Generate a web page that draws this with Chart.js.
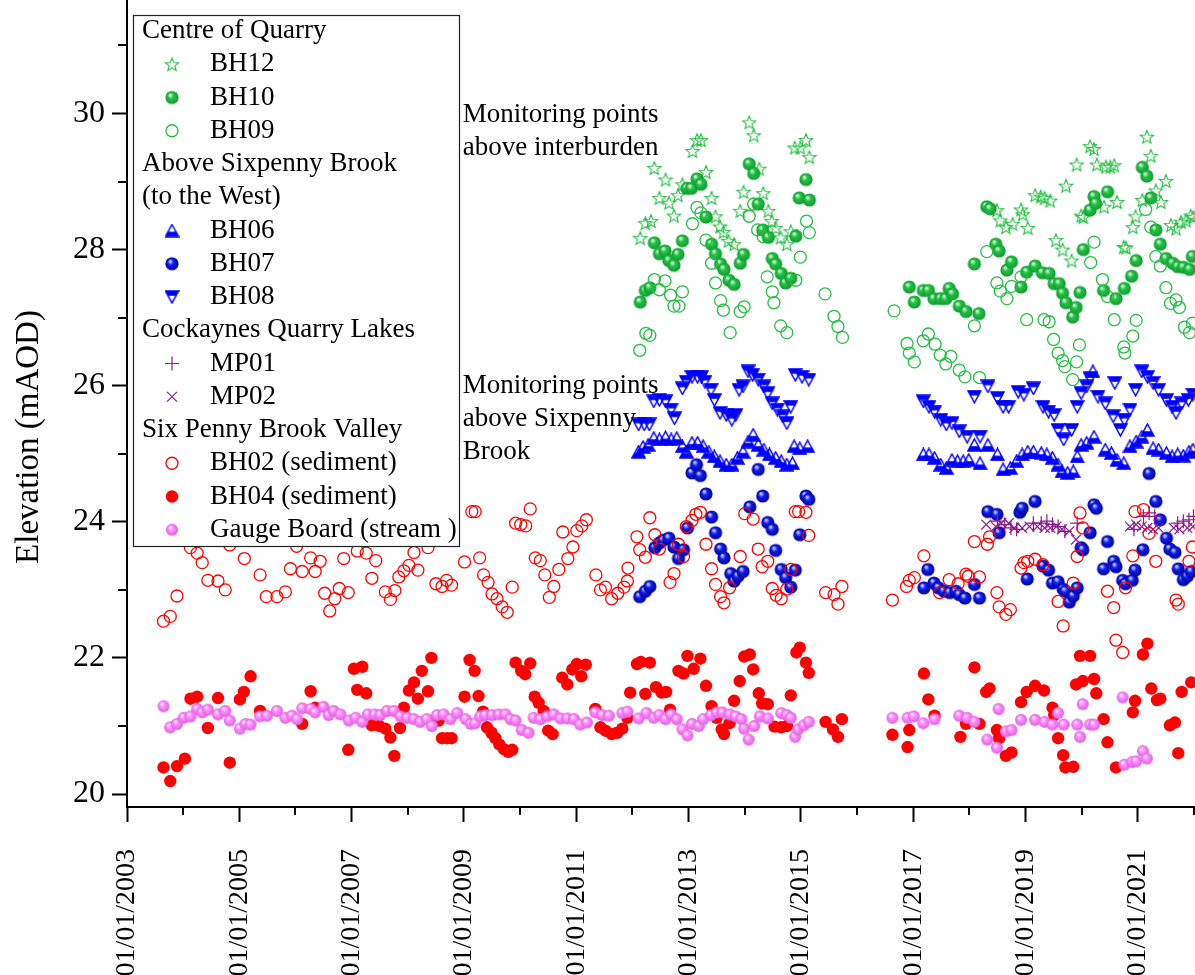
<!DOCTYPE html>
<html>
<head>
<meta charset="utf-8">
<title>Hydrograph of monitoring points</title>
<script src="https://cdn.jsdelivr.net/npm/chart.js@4.4.1/dist/chart.umd.min.js"></script>
<style>
  html, body { margin: 0; padding: 0; background: #fff; overflow: hidden; width: 1195px; height: 975px; }
  #wrap { position: absolute; left: 0; top: -40px; width: 1235px; height: 1015px; }
</style>
</head>
<body>
<div id="wrap"><canvas id="chart" width="1235" height="1015"></canvas></div>
<script>
// Axis ticks (decimal years on x, elevation in mAOD on y)
const yearTicks = [2003, 2005, 2007, 2009, 2011, 2013, 2015, 2017, 2019, 2021];
const yearMinor = [2004, 2006, 2008, 2010, 2012, 2014, 2016, 2018, 2020, 2022];
const levelTicks = [20, 22, 24, 26, 28, 30];
const levelMinor = [21, 23, 25, 27, 29, 31];

// Centre of Quarry
const bh12 = [
  [2012.14,28.17],[2012.23,28.39],[2012.33,28.42],[2012.39,29.20],[2012.48,28.76],[2012.59,29.03],[2012.65,28.69],
  [2012.74,28.50],[2012.81,28.80],[2012.89,28.96],[2013.07,29.45],[2013.15,29.61],[2013.22,29.61],[2013.31,29.14],
  [2013.41,28.76],[2013.48,28.49],[2013.56,28.34],[2013.62,28.26],[2013.71,28.13],[2013.81,28.08],[2013.92,28.57],
  [2013.98,28.85],[2014.08,29.87],[2014.16,29.68],[2014.26,29.19],[2014.33,28.83],[2014.42,28.57],[2014.48,28.42],
  [2014.55,28.32],[2014.64,28.18],[2014.75,28.08],[2014.82,28.27],[2014.89,29.50],[2014.99,29.50],[2015.09,29.61],
  [2015.15,29.36],
  [2018.49,28.58],[2018.55,28.43],[2018.65,28.33],[2018.77,28.38],[2018.92,28.59],[2018.95,28.52],[2019.04,28.32],
  [2019.17,28.80],[2019.27,28.78],[2019.34,28.76],[2019.44,28.72],[2019.54,28.14],[2019.66,28.00],[2019.72,28.94],
  [2019.82,27.84],[2019.91,29.25],[2019.99,28.50],[2020.03,28.48],[2020.15,29.52],[2020.22,29.48],[2020.27,29.25],
  [2020.40,28.63],[2020.43,29.22],[2020.51,29.22],[2020.58,29.24],[2020.63,28.70],[2020.75,28.04],[2020.79,28.03],
  [2020.91,28.33],[2020.96,28.49],[2021.08,28.73],[2021.16,29.66],[2021.23,29.38],[2021.32,28.87],[2021.41,28.70],
  [2021.50,29.01],[2021.59,28.36],[2021.68,28.31],[2021.77,28.41],[2021.86,28.43],[2021.94,28.50],[2021.99,28.48]
];
const bh10 = [
  [2012.14,27.23],[2012.23,27.40],[2012.31,27.44],[2012.39,28.10],[2012.48,27.94],[2012.58,27.98],[2012.65,27.84],
  [2012.74,27.77],[2012.81,27.93],[2012.89,28.13],[2012.97,28.90],[2013.05,28.90],[2013.15,29.04],[2013.22,28.96],
  [2013.31,28.48],[2013.41,28.08],[2013.48,27.94],[2013.57,27.79],[2013.63,27.71],[2013.72,27.55],[2013.81,27.49],
  [2013.92,27.80],[2013.98,27.93],[2014.08,29.26],[2014.16,29.12],[2014.24,28.67],[2014.32,28.29],[2014.42,28.18],
  [2014.49,27.87],[2014.55,27.79],[2014.65,27.65],[2014.73,27.51],[2014.82,27.58],[2014.91,28.20],[2014.97,28.76],
  [2015.09,29.03],[2015.15,28.73],
  [2016.93,27.45],[2017.02,27.23],[2017.18,27.40],[2017.27,27.40],[2017.37,27.28],[2017.49,27.28],[2017.58,27.28],
  [2017.64,27.43],[2017.70,27.35],[2017.82,27.17],[2017.94,27.09],[2018.09,27.79],[2018.17,27.06],[2018.31,28.63],
  [2018.37,28.60],[2018.47,28.08],[2018.53,27.98],[2018.67,27.70],[2018.75,27.82],[2018.92,27.45],[2019.02,27.67],
  [2019.17,27.76],[2019.30,27.66],[2019.42,27.65],[2019.51,27.50],[2019.60,27.50],[2019.66,27.36],[2019.72,27.22],
  [2019.84,27.01],[2019.90,27.15],[2019.97,27.37],[2020.03,28.00],[2020.15,28.58],[2020.22,28.78],[2020.25,28.68],
  [2020.39,27.40],[2020.46,28.85],[2020.61,27.28],[2020.76,27.43],[2020.89,27.61],[2020.97,27.84],[2021.08,29.21],
  [2021.16,29.08],[2021.23,28.76],[2021.32,28.29],[2021.40,28.08],[2021.50,27.87],[2021.62,27.80],[2021.71,27.75],
  [2021.81,27.74],[2021.92,27.71],[2021.97,27.90]
];
const bh09 = [
  [2012.13,26.52],[2012.24,26.77],[2012.31,26.74],[2012.39,27.56],[2012.48,27.41],[2012.58,27.54],[2012.68,27.33],
  [2012.74,27.17],[2012.83,27.17],[2012.89,27.38],[2013.07,28.38],[2013.15,28.62],[2013.22,28.54],[2013.31,28.14],
  [2013.41,27.80],[2013.48,27.51],[2013.57,27.25],[2013.62,27.11],[2013.74,26.78],[2013.92,27.09],[2013.99,27.16],
  [2014.08,28.49],[2014.16,28.67],[2014.23,28.29],[2014.33,28.19],[2014.40,27.60],[2014.49,27.38],[2014.52,27.22],
  [2014.64,26.88],[2014.75,26.78],[2014.91,27.55],[2014.99,27.89],[2015.10,28.42],[2015.15,28.25],[2015.43,27.35],
  [2015.59,27.02],[2015.66,26.87],[2015.74,26.71],
  [2016.66,27.10],[2016.89,26.62],[2016.93,26.48],[2017.02,26.35],[2017.18,26.66],[2017.27,26.76],[2017.39,26.61],
  [2017.48,26.45],[2017.58,26.32],[2017.67,26.43],[2017.82,26.23],[2017.92,26.13],[2018.09,26.88],[2018.18,26.12],
  [2018.31,27.97],[2018.49,27.51],[2018.55,27.39],[2018.67,27.28],[2018.75,27.46],[2018.92,27.60],[2019.02,26.97],
  [2019.33,26.97],[2019.42,26.94],[2019.50,26.68],[2019.58,26.48],[2019.66,26.37],[2019.70,26.28],[2019.84,26.09],
  [2019.91,26.35],[2019.96,26.60],[2020.16,27.81],[2020.22,28.11],[2020.37,27.56],[2020.46,27.31],[2020.58,26.97],
  [2020.75,26.57],[2020.77,26.48],[2020.91,26.73],[2020.97,26.96],[2021.14,28.59],[2021.23,28.33],[2021.32,27.90],
  [2021.40,27.76],[2021.50,27.44],[2021.58,27.21],[2021.68,27.26],[2021.74,27.15],[2021.83,26.86],[2021.92,26.78],
  [2021.97,26.92]
];

// Above Sixpenny Brook (to the West)
const bh06 = [
  [2012.11,25.03],[2012.19,25.10],[2012.28,25.13],[2012.38,25.23],[2012.48,25.21],[2012.59,25.24],[2012.69,25.21],
  [2012.79,25.23],[2012.89,25.11],[2012.96,25.03],[2013.06,25.16],[2013.16,25.16],[2013.26,25.11],[2013.36,25.03],
  [2013.46,24.96],[2013.56,24.89],[2013.67,24.84],[2013.77,24.84],[2013.87,24.94],[2013.97,25.03],[2014.06,25.18],
  [2014.15,25.28],[2014.24,25.13],[2014.34,25.06],[2014.44,24.99],[2014.55,24.94],[2014.65,24.89],[2014.75,24.84],
  [2014.85,24.86],[2014.88,25.11],[2014.98,25.08],[2015.12,25.11],
  [2017.18,24.99],[2017.28,24.99],[2017.38,24.94],[2017.49,24.84],[2017.59,24.79],[2017.69,24.91],[2017.79,24.89],
  [2017.89,24.89],[2017.99,24.91],[2018.09,25.13],[2018.19,24.86],[2018.33,25.13],[2018.50,24.99],[2018.60,24.77],
  [2018.73,24.79],[2018.84,24.89],[2018.94,24.99],[2019.04,25.03],[2019.14,25.03],[2019.28,25.01],[2019.38,24.99],
  [2019.48,24.94],[2019.58,24.84],[2019.65,24.74],[2019.75,24.72],[2019.85,24.74],[2019.92,24.96],[2019.99,25.13],
  [2020.09,25.16],[2020.20,26.21],[2020.22,25.25],[2020.42,25.06],[2020.53,25.01],[2020.63,24.91],[2020.75,24.86],
  [2020.86,25.11],[2020.97,25.18],[2021.07,25.25],[2021.17,25.35],[2021.27,25.08],[2021.37,25.06],[2021.51,25.01],
  [2021.61,24.96],[2021.71,24.99],[2021.81,24.97],[2021.91,25.03],[2021.98,25.06]
];
const bh07 = [
  [2012.13,22.90],[2012.23,22.98],[2012.31,23.05],[2012.40,23.62],[2012.48,23.69],[2012.55,23.73],[2012.65,23.76],
  [2012.74,23.63],[2012.82,23.46],[2012.91,23.59],[2012.98,23.91],[2013.06,24.72],[2013.14,24.84],[2013.21,24.68],
  [2013.31,24.41],[2013.41,24.07],[2013.48,23.84],[2013.57,23.60],[2013.63,23.47],[2013.75,23.24],[2013.81,23.13],
  [2013.88,23.20],[2013.97,23.27],[2014.09,24.22],[2014.24,24.77],[2014.32,24.38],[2014.41,23.99],[2014.49,23.89],
  [2014.55,23.58],[2014.65,23.30],[2014.73,23.18],[2014.82,23.04],[2014.90,23.29],[2014.98,23.81],[2015.09,24.38],
  [2015.14,24.33],
  [2017.19,23.03],[2017.26,23.30],[2017.37,23.10],[2017.45,23.03],[2017.55,22.98],[2017.65,22.96],[2017.76,22.98],
  [2017.82,22.93],[2017.92,22.88],[2018.09,23.08],[2018.18,22.88],[2018.33,24.15],[2018.49,24.11],[2018.53,23.84],
  [2018.90,24.14],[2018.94,24.20],[2019.03,23.16],[2019.17,24.30],[2019.31,23.35],[2019.41,23.29],[2019.48,23.10],
  [2019.58,23.12],[2019.67,23.01],[2019.71,22.98],[2019.78,22.82],[2019.85,22.91],[2019.92,23.03],[2019.99,23.62],
  [2020.02,23.59],[2020.15,23.84],[2020.22,24.25],[2020.26,24.20],[2020.39,23.31],[2020.46,23.71],[2020.57,23.42],
  [2020.61,23.34],[2020.73,23.14],[2020.78,23.09],[2020.90,23.14],[2020.95,23.29],[2021.09,23.59],[2021.20,24.71],
  [2021.32,24.30],[2021.40,24.03],[2021.51,23.76],[2021.57,23.60],[2021.66,23.55],[2021.72,23.31],[2021.81,23.15],
  [2021.88,23.20],[2021.95,23.27]
];
const bh08 = [
  [2012.11,25.43],[2012.21,25.43],[2012.30,25.43],[2012.38,25.77],[2012.48,25.79],[2012.59,25.77],[2012.69,25.65],
  [2012.75,25.52],[2012.89,25.96],[2012.96,26.06],[2013.06,26.13],[2013.16,26.13],[2013.23,26.13],[2013.29,26.06],
  [2013.40,25.94],[2013.46,25.79],[2013.56,25.60],[2013.67,25.57],[2013.77,25.50],[2013.84,25.57],[2013.90,25.94],
  [2013.97,25.99],[2014.06,26.21],[2014.14,26.16],[2014.24,26.09],[2014.34,25.99],[2014.41,25.89],[2014.49,25.74],
  [2014.58,25.65],[2014.68,25.55],[2014.75,25.45],[2014.82,25.69],[2014.90,26.16],[2015.02,26.13],[2015.14,26.09],
  [2017.18,25.77],[2017.28,25.69],[2017.38,25.62],[2017.49,25.50],[2017.59,25.43],[2017.69,25.45],[2017.82,25.33],
  [2017.96,25.25],[2018.09,25.84],[2018.19,25.25],[2018.33,25.99],[2018.50,25.82],[2018.60,25.69],[2018.70,25.69],
  [2018.87,25.91],[2018.97,25.87],[2019.14,25.96],[2019.31,25.69],[2019.41,25.62],[2019.51,25.57],[2019.58,25.35],
  [2019.68,25.21],[2019.82,25.35],[2019.92,25.69],[2019.99,25.89],[2020.09,25.99],[2020.15,26.11],[2020.29,25.84],
  [2020.42,25.74],[2020.56,25.55],[2020.59,26.04],[2020.69,25.35],[2020.76,25.50],[2020.86,25.65],[2020.96,25.94],
  [2021.07,26.21],[2021.17,26.13],[2021.27,26.04],[2021.37,25.94],[2021.51,25.79],[2021.61,25.69],[2021.68,25.60],
  [2021.78,25.74],[2021.90,25.79],[2021.98,25.87]
];

// Cockaynes Quarry Lakes
const mp01 = [
  [2018.50,24.01],[2018.63,23.96],[2018.74,23.91],[2018.84,23.89],[2019.14,23.98],[2019.28,23.98],[2019.38,24.01],
  [2019.48,23.96],[2019.58,23.93],[2019.70,23.86],[2019.92,23.98],[2020.93,23.89],[2021.10,24.08],[2021.20,24.13],
  [2021.30,24.08],[2021.71,23.98],[2021.81,24.01],[2021.91,24.03],[2021.99,24.08]
];
const mp02 = [
  [2018.30,23.96],[2018.47,23.93],[2018.57,23.98],[2018.70,23.98],[2018.80,23.91],[2018.94,23.91],[2019.07,23.93],
  [2019.21,23.93],[2019.34,23.91],[2019.44,23.91],[2019.55,23.93],[2019.65,23.89],[2019.78,23.86],[2019.90,23.74],
  [2020.86,23.93],[2020.97,23.96],[2021.07,23.93],[2021.17,23.91],[2021.27,23.89],[2021.37,23.91],[2021.64,23.91],
  [2021.74,23.89],[2021.88,23.91],[2021.98,23.93]
];

// Six Penny Brook Valley
const bh02 = [
  [2003.65,22.54],[2003.77,22.61],[2003.89,22.91],[2004.13,23.62],[2004.25,23.54],[2004.34,23.40],[2004.44,23.14],
  [2004.62,23.13],[2004.75,23.00],[2004.83,23.66],[2005.09,23.46],[2005.37,23.22],[2005.48,22.90],[2005.67,22.90],
  [2005.82,22.97],[2005.91,23.31],[2006.02,23.64],[2006.12,23.27],[2006.27,23.47],[2006.35,23.27],[2006.44,23.42],
  [2006.52,22.95],[2006.61,22.69],[2006.70,22.87],[2006.78,23.02],[2006.86,23.46],[2006.94,22.96],[2007.10,23.57],
  [2007.26,23.54],[2007.36,23.17],[2007.43,23.43],[2007.60,22.97],[2007.69,22.86],[2007.77,22.99],[2007.84,23.19],
  [2007.93,23.28],[2008.02,23.36],[2008.11,23.55],[2008.18,23.29],[2008.36,23.62],[2008.50,23.09],[2008.61,23.05],
  [2008.69,23.14],[2008.78,23.07],[2009.01,23.41],[2009.14,24.15],[2009.20,24.15],[2009.28,23.47],[2009.35,23.22],
  [2009.43,23.11],[2009.50,22.94],[2009.59,22.87],[2009.68,22.75],[2009.77,22.67],[2009.86,23.04],[2009.92,23.98],
  [2010.01,23.96],[2010.10,23.94],[2010.18,24.19],[2010.27,23.47],[2010.36,23.43],[2010.44,23.22],[2010.52,22.89],
  [2010.60,23.05],[2010.69,23.30],[2010.76,23.85],[2010.85,23.46],[2010.94,23.63],[2011.01,23.87],[2011.10,23.94],
  [2011.18,24.03],[2011.35,23.22],[2011.43,23.00],[2011.52,23.04],[2011.63,22.87],[2011.74,22.95],[2011.85,23.04],
  [2011.91,23.13],[2011.92,23.32],
  [2012.08,23.78],[2012.13,23.59],[2012.23,23.48],[2012.31,24.06],[2012.40,23.81],[2012.48,23.60],[2012.67,23.11],
  [2012.74,23.24],[2012.82,23.67],[2012.91,23.49],[2012.96,23.93],[2013.06,24.02],[2013.13,24.11],[2013.21,24.14],
  [2013.31,23.67],[2013.41,23.31],[2013.48,23.08],[2013.57,22.90],[2013.63,22.81],[2013.73,23.03],[2013.92,23.49],
  [2014.00,24.12],[2014.15,24.04],[2014.24,23.60],[2014.31,23.34],[2014.41,23.42],[2014.49,23.02],[2014.56,22.92],
  [2014.65,22.87],[2014.75,23.01],[2014.82,23.30],[2014.90,24.15],[2014.96,24.15],[2015.09,24.14],[2015.14,23.80],
  [2015.44,22.96],[2015.59,22.93],[2015.66,22.79],[2015.73,23.05],
  [2016.63,22.85],[2016.88,23.05],[2016.93,23.14],[2017.02,23.18],[2017.19,23.50],[2017.47,22.96],[2017.64,23.15],
  [2017.80,23.09],[2017.94,23.23],[2017.98,23.20],[2018.09,23.71],[2018.18,23.19],[2018.32,23.67],[2018.36,23.78],
  [2018.49,22.96],[2018.53,22.75],[2018.65,22.64],[2018.73,22.71],[2018.92,23.32],[2018.97,23.40],[2019.04,23.42],
  [2019.17,23.45],[2019.31,23.37],[2019.58,22.83],[2019.67,22.47],[2019.85,23.10],[2019.92,23.49],[2019.97,24.13],
  [2020.02,23.91],[2020.46,22.98],[2020.57,22.74],[2020.61,22.26],[2020.73,22.08],[2020.78,23.03],[2020.91,23.50],
  [2020.95,24.15],[2021.10,24.18],[2021.20,23.83],[2021.32,23.42],[2021.68,22.85],[2021.72,22.79],[2021.91,23.42],
  [2021.97,23.63]
];
const bh04 = [
  [2003.65,20.39],[2003.77,20.19],[2003.89,20.41],[2004.03,20.52],[2004.13,21.40],[2004.25,21.43],[2004.44,20.97],
  [2004.62,21.41],[2004.83,20.46],[2005.01,21.39],[2005.08,21.50],[2005.20,21.73],[2005.37,21.22],[2006.12,21.03],
  [2006.27,21.51],[2006.35,21.27],[2006.94,20.65],[2007.04,21.84],[2007.10,21.53],[2007.19,21.87],[2007.26,21.48],
  [2007.36,21.01],[2007.49,21.00],[2007.60,20.96],[2007.69,20.83],[2007.76,20.56],[2007.86,20.97],[2007.93,21.27],
  [2008.02,21.52],[2008.11,21.64],[2008.18,21.40],[2008.25,21.81],[2008.36,21.51],[2008.42,22.00],[2008.55,21.08],
  [2008.61,20.82],[2008.70,20.82],[2008.78,20.82],[2009.01,21.43],[2009.10,21.97],[2009.19,21.81],[2009.26,21.44],
  [2009.34,21.21],[2009.41,20.98],[2009.49,20.90],[2009.56,20.82],[2009.63,20.73],[2009.71,20.66],[2009.79,20.62],
  [2009.86,20.65],[2009.92,21.93],[2010.02,21.81],[2010.09,21.76],[2010.18,21.92],[2010.26,21.43],[2010.33,21.34],
  [2010.42,21.22],[2010.50,20.93],[2010.58,20.88],[2010.75,21.71],[2010.84,21.61],[2010.93,21.83],[2011.01,21.91],
  [2011.09,21.73],[2011.17,21.90],[2011.34,21.25],[2011.43,20.98],[2011.52,20.93],[2011.63,20.88],[2011.73,20.90],
  [2011.82,20.96],[2011.91,21.12],[2011.96,21.49],
  [2012.08,21.91],[2012.15,21.94],[2012.23,21.47],[2012.31,21.93],[2012.42,21.57],[2012.52,21.49],[2012.60,21.50],
  [2012.67,21.24],[2012.82,21.81],[2012.91,21.77],[2012.98,22.03],[2013.09,21.84],[2013.21,21.99],[2013.31,21.59],
  [2013.41,21.29],[2013.50,21.12],[2013.59,20.95],[2013.63,20.88],[2013.73,21.04],[2013.81,21.37],[2013.91,21.66],
  [2013.99,22.02],[2014.09,22.05],[2014.15,21.83],[2014.25,21.48],[2014.31,21.33],[2014.41,21.32],[2014.53,20.99],
  [2014.65,20.98],[2014.75,21.00],[2014.82,21.45],[2014.92,22.08],[2014.98,22.15],[2015.09,21.93],[2015.14,21.78],
  [2015.44,21.06],[2015.57,20.95],[2015.66,20.84],[2015.73,21.10],
  [2016.63,20.87],[2016.90,20.69],[2016.93,20.94],[2017.19,21.77],[2017.27,21.39],[2017.38,21.15],[2017.84,20.84],
  [2017.94,21.03],[2018.09,21.86],[2018.18,21.03],[2018.30,21.50],[2018.36,21.55],[2018.49,20.94],[2018.53,20.82],
  [2018.65,20.56],[2018.75,20.61],[2018.92,21.35],[2019.02,21.50],[2019.17,21.59],[2019.33,21.52],[2019.48,21.27],
  [2019.51,21.16],[2019.58,20.82],[2019.67,20.57],[2019.71,20.39],[2019.85,20.40],[2019.90,21.61],[2019.97,22.03],
  [2020.02,21.66],[2020.15,22.03],[2020.22,21.69],[2020.26,21.48],[2020.39,21.10],[2020.46,20.76],[2020.61,20.39],
  [2020.91,21.20],[2020.95,21.37],[2021.09,22.05],[2021.17,22.21],[2021.24,21.55],[2021.34,21.38],[2021.40,21.40],
  [2021.57,21.01],[2021.66,21.05],[2021.72,20.60],[2021.78,21.50],[2021.95,21.64]
];
const gauge = [
  [2003.65,21.29],[2003.77,20.98],[2003.89,21.03],[2004.01,21.12],[2004.13,21.14],[2004.25,21.25],[2004.34,21.20],
  [2004.44,21.24],[2004.62,21.17],[2004.75,21.22],[2004.83,21.08],[2005.01,20.96],[2005.11,21.03],[2005.20,21.02],
  [2005.37,21.14],[2005.49,21.15],[2005.67,21.22],[2005.82,21.12],[2005.94,21.15],[2006.03,21.10],[2006.12,21.26],
  [2006.27,21.25],[2006.35,21.20],[2006.50,21.28],[2006.59,21.16],[2006.68,21.22],[2006.80,21.17],[2006.95,21.08],
  [2007.07,21.12],[2007.19,21.06],[2007.29,21.17],[2007.41,21.17],[2007.51,21.16],[2007.63,21.22],[2007.75,21.22],
  [2007.87,21.14],[2007.99,21.12],[2008.11,21.10],[2008.22,21.06],[2008.34,21.10],[2008.43,21.00],[2008.52,21.16],
  [2008.64,21.17],[2008.76,21.10],[2008.88,21.19],[2009.03,21.10],[2009.12,21.03],[2009.20,21.04],[2009.29,21.14],
  [2009.38,21.16],[2009.50,21.16],[2009.62,21.17],[2009.74,21.17],[2009.83,21.10],[2009.92,21.08],[2010.03,20.94],
  [2010.15,20.90],[2010.24,21.12],[2010.36,21.10],[2010.48,21.14],[2010.60,21.17],[2010.72,21.11],[2010.84,21.11],
  [2010.96,21.10],[2011.07,21.02],[2011.19,21.05],[2011.34,21.20],[2011.46,21.16],[2011.58,21.15],[2011.82,21.19],
  [2011.91,21.21],
  [2012.11,21.11],[2012.25,21.19],[2012.38,21.12],[2012.48,21.16],[2012.59,21.10],[2012.69,21.17],[2012.79,21.10],
  [2012.89,20.95],[2012.98,20.86],[2013.06,21.03],[2013.18,21.00],[2013.26,21.10],[2013.40,21.16],[2013.50,21.20],
  [2013.60,21.20],[2013.73,21.17],[2013.84,21.14],[2013.94,21.10],[2013.99,20.96],[2014.07,20.80],[2014.17,21.00],
  [2014.27,21.14],[2014.41,21.11],[2014.65,21.19],[2014.75,21.16],[2014.82,21.12],[2014.90,20.84],[2014.95,20.95],
  [2015.05,21.01],[2015.14,21.06],
  [2016.63,21.12],[2016.90,21.12],[2017.01,21.14],[2017.18,21.04],[2017.38,21.10],[2017.82,21.15],[2017.96,21.12],
  [2018.09,21.06],[2018.32,20.80],[2018.49,20.68],[2018.52,21.25],[2018.65,20.92],[2018.75,20.94],[2018.92,21.09],
  [2019.17,21.09],[2019.34,21.06],[2019.48,21.02],[2019.58,21.19],[2019.68,21.02],[2019.92,21.02],[2019.97,20.84],
  [2020.02,21.32],[2020.15,21.02],[2020.22,21.02],[2020.73,21.42],[2020.76,20.43],[2020.90,20.47],[2020.97,20.48],
  [2021.09,20.63],[2021.16,20.52]
];

const FONT = "'Liberation Serif', 'Times New Roman', Times, serif";
const GREEN = '#22bf42';
const BLUE = '#0000ff';
const RED = '#ff0000';
const PURPLE = '#8b1c8b';

// ---- marker sprites -------------------------------------------------------
function sphere(r, light, base, dark) {
  const s = Math.ceil(2 * r + 2);
  const c = document.createElement('canvas');
  c.width = c.height = s;
  const g = c.getContext('2d');
  const m = s / 2;
  const grad = g.createRadialGradient(m - r * 0.3, m - r * 0.4, r * 0.05, m, m, r);
  grad.addColorStop(0, light);
  grad.addColorStop(0.4, base);
  grad.addColorStop(1, dark);
  g.fillStyle = grad;
  g.beginPath();
  g.arc(m, m, r, 0, Math.PI * 2);
  g.fill();
  return c;
}
function star(color) {
  const R = 7, r = 3, s = 18;
  const c = document.createElement('canvas');
  c.width = c.height = s;
  const g = c.getContext('2d');
  const m = s / 2;
  g.beginPath();
  for (let i = 0; i < 10; i++) {
    const a = -Math.PI / 2 + i * Math.PI / 5;
    const rad = i % 2 ? r : R;
    const px = m + rad * Math.cos(a), py = m + 0.7 + rad * Math.sin(a);
    if (i === 0) g.moveTo(px, py); else g.lineTo(px, py);
  }
  g.closePath();
  g.strokeStyle = color;
  g.lineWidth = 1.1;
  g.stroke();
  return c;
}
function triangle(color, up) {
  const w = 13, h = 12;
  const c = document.createElement('canvas');
  c.width = w + 2; c.height = h + 2;
  const g = c.getContext('2d');
  const m = (w + 2) / 2, top = 1, bot = h + 1;
  g.beginPath();
  if (up) { g.moveTo(m, top); g.lineTo(w + 1, bot); g.lineTo(1, bot); }
  else { g.moveTo(1, top); g.lineTo(w + 1, top); g.lineTo(m, bot); }
  g.closePath();
  g.strokeStyle = color;
  g.lineWidth = 1.5;
  g.stroke();
  g.save();
  g.clip();
  g.fillStyle = color;
  if (up) g.fillRect(0, bot - h * 0.4, w + 2, h);
  else g.fillRect(0, 0, w + 2, top + h * 0.4);
  g.restore();
  return c;
}

const sprites = {
  star: star(GREEN),
  greenBall: sphere(6.6, '#eaffea', '#22c244', '#129a32'),
  blueBall: sphere(6.6, '#dfe4ff', '#1020f0', '#00009a'),
  pinkBall: sphere(6, '#fff0ff', '#ff8cff', '#e060e0'),
  triUp: triangle(BLUE, true),
  triDown: triangle(BLUE, false)
};

function pts(arr) { return arr.map(p => ({ x: p[0], y: p[1] })); }

// legend order; later entries sit on top of earlier ones
const seriesDefs = [
  { label: 'BH12', data: bh12, pointStyle: sprites.star, radius: 7 },
  { label: 'BH10', data: bh10, pointStyle: sprites.greenBall, radius: 7 },
  { label: 'BH09', data: bh09, pointStyle: 'circle', radius: 6, fill: 'rgba(0,0,0,0)', stroke: GREEN, bw: 1.3 },
  { label: 'BH06', data: bh06, pointStyle: sprites.triUp, radius: 7 },
  { label: 'BH07', data: bh07, pointStyle: sprites.blueBall, radius: 7 },
  { label: 'BH08', data: bh08, pointStyle: sprites.triDown, radius: 7 },
  { label: 'MP01', data: mp01, pointStyle: 'cross', radius: 7, fill: 'rgba(0,0,0,0)', stroke: PURPLE, bw: 1.2 },
  { label: 'MP02', data: mp02, pointStyle: 'crossRot', radius: 7, fill: 'rgba(0,0,0,0)', stroke: PURPLE, bw: 1.2 },
  { label: 'BH02 (sediment)', data: bh02, pointStyle: 'circle', radius: 6, fill: 'rgba(0,0,0,0)', stroke: RED, bw: 1.3 },
  { label: 'BH04 (sediment)', data: bh04, pointStyle: 'circle', radius: 6.2, fill: RED, stroke: RED, bw: 0 },
  { label: 'Gauge Board (stream )', data: gauge, pointStyle: sprites.pinkBall, radius: 6 }
];

const datasets = seriesDefs.map((d, i) => ({
  label: d.label,
  data: pts(d.data),
  showLine: false,
  pointStyle: d.pointStyle,
  pointRadius: d.radius,
  pointBackgroundColor: d.fill || 'rgba(0,0,0,0)',
  pointBorderColor: d.stroke || 'rgba(0,0,0,0)',
  pointBorderWidth: d.bw || 0,
  order: seriesDefs.length - i
}));

// legend rows: group headings and series entries
const legendRows = [
  { head: 'Centre of Quarry' },
  { series: 0 }, { series: 1 }, { series: 2 },
  { head: 'Above Sixpenny Brook' },
  { head: '(to the West)' },
  { series: 3 }, { series: 4 }, { series: 5 },
  { head: 'Cockaynes Quarry Lakes' },
  { series: 6 }, { series: 7 },
  { head: 'Six Penny Brook Valley' },
  { series: 8 }, { series: 9 }, { series: 10 }
];

const notes = [
  { year: 2008.98, level: 29.88, lines: ['Monitoring points', 'above interburden'] },
  { year: 2008.98, level: 25.89, lines: ['Monitoring points', 'above Sixpenny', 'Brook'] }
];

function drawMarker(ctx, d, x, y) {
  ctx.save();
  ctx.fillStyle = d.fill || 'rgba(0,0,0,0)';
  ctx.strokeStyle = d.stroke || 'rgba(0,0,0,0)';
  ctx.lineWidth = d.bw || 0;
  Chart.helpers.drawPoint(ctx, { pointStyle: d.pointStyle, radius: d.radius, rotation: 0, borderWidth: d.bw || 0 }, x, y);
  ctx.restore();
}

const decorations = {
  id: 'decorations',
  afterDatasetsDraw(chart) {
    const ctx = chart.ctx;
    const xs = chart.scales.x, ys = chart.scales.y;
    const area = chart.chartArea;
    ctx.save();

    // minor ticks
    ctx.strokeStyle = '#000';
    ctx.lineWidth = 2;
    ctx.beginPath();
    yearMinor.forEach(v => {
      const px = Math.round(xs.getPixelForValue(v));
      if (px <= area.right) { ctx.moveTo(px, area.bottom); ctx.lineTo(px, area.bottom + 8); }
    });
    levelMinor.forEach(v => {
      const py = Math.round(ys.getPixelForValue(v));
      if (py >= area.top) { ctx.moveTo(area.left - 9, py); ctx.lineTo(area.left, py); }
    });
    ctx.stroke();

    // text notes beside the groups of boreholes
    ctx.fillStyle = '#000';
    ctx.font = '27px ' + FONT;
    ctx.textAlign = 'left';
    ctx.textBaseline = 'alphabetic';
    notes.forEach(n => {
      const nx = xs.getPixelForValue(n.year);
      const ny = ys.getPixelForValue(n.level);
      n.lines.forEach((t, i) => ctx.fillText(t, nx, ny + i * 33));
    });

    // legend box
    const bx = area.left + 6, by = area.top + 55, bw = 326, bh = 531;
    ctx.fillStyle = '#fff';
    ctx.fillRect(bx, by, bw, bh);
    ctx.strokeStyle = '#222';
    ctx.lineWidth = 1.2;
    ctx.strokeRect(bx + 0.5, by + 0.5, bw, bh);
    ctx.font = '27px ' + FONT;
    ctx.textBaseline = 'middle';
    legendRows.forEach((row, i) => {
      const ry = by + 16 + i * 33.25;
      if (row.head) {
        ctx.fillStyle = '#000';
        ctx.fillText(row.head, bx + 9, ry);
      } else {
        const d = seriesDefs[row.series];
        drawMarker(ctx, d, bx + 39, ry);
        ctx.fillStyle = '#000';
        ctx.fillText(d.label, bx + 77, ry);
      }
    });

    // y axis title
    ctx.save();
    ctx.translate(29, area.top + 477);
    ctx.rotate(-Math.PI / 2);
    ctx.textAlign = 'center';
    ctx.textBaseline = 'middle';
    ctx.font = '33px ' + FONT;
    ctx.fillStyle = '#000';
    ctx.fillText('Elevation (mAOD)', 0, 0);
    ctx.restore();

    ctx.restore();
  }
};

new Chart(document.getElementById('chart'), {
  type: 'scatter',
  data: { datasets },
  options: {
    responsive: false,
    devicePixelRatio: 1,
    animation: false,
    events: [],
    layout: { padding: 0, autoPadding: false },
    plugins: { legend: { display: false }, tooltip: { enabled: false } },
    scales: {
      x: {
        type: 'linear',
        min: 2003,
        max: 2022.73,
        afterBuildTicks: s => { s.ticks = yearTicks.map(v => ({ value: v })); },
        afterFit: s => { s.height = 168; s.paddingLeft = 0; s.paddingRight = 0; },
        ticks: {
          autoSkip: false,
          minRotation: 90,
          maxRotation: 90,
          padding: 27,
          color: '#000',
          font: { family: FONT, size: 28 },
          callback: v => '01/01/' + v
        },
        grid: { drawOnChartArea: false, drawTicks: true, tickLength: 15, tickWidth: 2, tickColor: '#000' },
        border: { display: true, color: '#000', width: 2 }
      },
      y: {
        type: 'linear',
        min: 19.809,
        max: 32.256,
        afterBuildTicks: s => { s.ticks = levelTicks.map(v => ({ value: v })); },
        afterFit: s => { s.width = 127; s.paddingTop = 0; s.paddingBottom = 0; },
        ticks: {
          padding: 7,
          color: '#000',
          font: { family: FONT, size: 32 },
          callback: v => String(v)
        },
        grid: { drawOnChartArea: false, drawTicks: true, tickLength: 15, tickWidth: 2, tickColor: '#000' },
        border: { display: true, color: '#000', width: 2 }
      }
    }
  },
  plugins: [decorations]
});
</script>
</body>
</html>
